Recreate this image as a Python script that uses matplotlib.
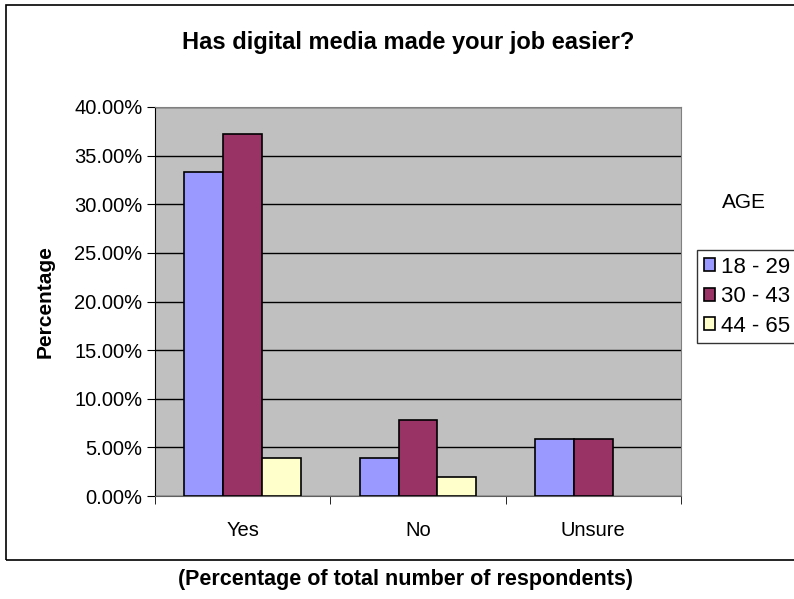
import numpy as np
import matplotlib
matplotlib.use('Agg')
from matplotlib import pyplot as plt
from matplotlib.patches import Rectangle

plt.rcParams['font.family'] = ['Liberation Sans', 'DejaVu Sans']

# Data
categories = ['Yes', 'No', 'Unsure']
age_groups = ['18 - 29', '30 - 43', '44 - 65']
pct_18_29 = [33.33, 3.92, 5.88]
pct_30_43 = [37.25, 7.84, 5.88]
pct_44_65 = [3.92, 1.96, 0.0]
colors = ['#9999FF', '#993366', '#FFFFCC']
yticks = np.arange(0, 45, 5)

W, H = 794, 599
fig = plt.figure(figsize=(W / 100, H / 100), dpi=100)

# Outer chart frame (right edge runs off the picture)
fig.patches.append(Rectangle((6 / W, 1 - 560 / H), 800 / W, 555 / H,
                             transform=fig.transFigure, fill=False,
                             edgecolor='black', linewidth=1.2))

ax = fig.add_axes([155 / W, 1 - 496 / H, 526 / W, 389 / H])
ax.set_facecolor('#C0C0C0')

x = np.arange(len(categories))
bw = 1 / 4.5
series = [pct_18_29, pct_30_43, pct_44_65]
for i, (vals, c, lab) in enumerate(zip(series, colors, age_groups)):
    vals = np.array(vals)
    xs = x + (i - 1) * bw
    keep = vals > 0
    ax.bar(xs[keep], vals[keep], width=bw, color=c, edgecolor='black',
           linewidth=1.2, label=lab, zorder=3)

ax.set_xlim(-0.5, 2.5)
ax.set_ylim(0, 40)
ax.set_yticks(yticks)
ax.set_yticklabels(['%.2f%%' % v for v in yticks], fontsize=14.5)
ax.yaxis.grid(True, color='black', linewidth=1, zorder=1)
ax.set_axisbelow(True)

ax.set_xticks(x)
ax.set_xticklabels(categories, fontsize=14.5)
ax.tick_params(axis='x', length=0, pad=18)
# tick marks on the category boundaries
ax.set_xticks(np.arange(-0.5, 3, 1), minor=True)
ax.tick_params(axis='x', which='minor', length=6, direction='out')
ax.tick_params(axis='y', length=6, direction='out', pad=3)

for s in ['top', 'right']:
    ax.spines[s].set_color('#808080')
ax.spines['left'].set_color('black')
ax.spines['bottom'].set_color('#606060')

ax.set_ylabel('Percentage', fontsize=15, fontweight='bold', labelpad=14)

fig.text(408 / W, 1 - 42 / H, 'Has digital media made your job easier?',
         ha='center', va='center', fontsize=17, fontweight='bold')
fig.text(406 / W, 1 - 580 / H, '(Percentage of total number of respondents)',
         ha='center', va='center', fontsize=15.5, fontweight='bold')
fig.text(744 / W, 1 - 203 / H, 'AGE', ha='center', va='center', fontsize=15)

leg = fig.legend(loc='upper left', bbox_to_anchor=(697 / W, 1 - 250 / H),
                 fontsize=16, frameon=True, fancybox=False,
                 handlelength=0.5, handleheight=0.5, handletextpad=0.3,
                 borderpad=0.3, labelspacing=0.38, borderaxespad=0)
leg.get_frame().set_edgecolor('black')
leg.get_frame().set_linewidth(1)

fig.savefig('out.png', dpi=100)
